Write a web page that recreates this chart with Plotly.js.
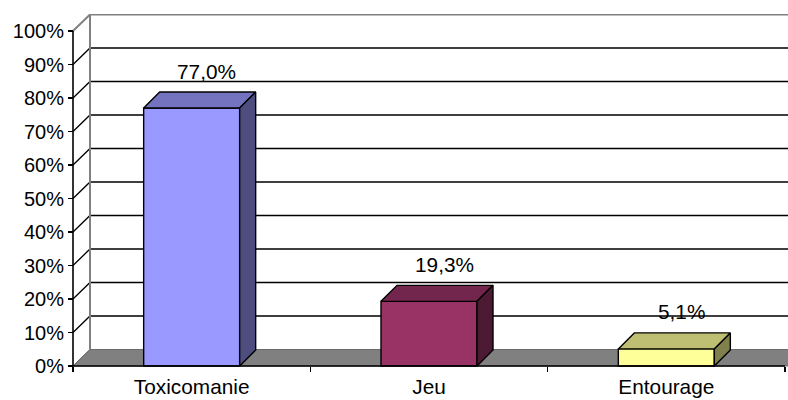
<!DOCTYPE html>
<html>
<head>
<meta charset="utf-8">
<script src="https://cdn.plot.ly/plotly-3.0.1.min.js"></script>
<style>
html,body{margin:0;padding:0;background:#fff;}
#chart{width:788px;height:400px;}
</style>
</head>
<body>
<div id="chart"></div>
<script>
// ---- data ----
const categories = ["Toxicomanie", "Jeu", "Entourage"];
const values = [77.0, 19.3, 5.1];
const tickValues = [0, 10, 20, 30, 40, 50, 60, 70, 80, 90, 100];
const tickLabels = tickValues.map(v => v + "%");
const frontColors = ["#9999FF", "#993366", "#FFFF99"];
const topColors   = ["#7373BF", "#73264D", "#BFBF73"];
const sideColors  = ["#4D4D80", "#4D1A33", "#80804D"];

// ---- geometry (pixel based style constants) ----
const W = 788, H = 400;
const mL = 70, mR = 0, mT = 14, mB = 31;
const plotW = W - mL - mR, plotH = H - mT - mB;
const axisXpx = 73, axisYpx = 366;           // front axes position
const catPx = (785 - axisXpx) / categories.length;  // px per category
const valPx = (axisYpx - 31) / 100;          // px per percent
const xMin = -0.5 - (axisXpx - mL) / catPx;
const xMax = xMin + plotW / catPx;
const yMin = -(mT + plotH - axisYpx) / valPx;
const yMax = yMin + plotH / valPx;
const wallDx = 17 / catPx, wallDy = 16.5 / valPx;
const barDx = 16 / catPx, barDy = 16 / valPx;
const barW = 96 / catPx;
const x0 = -0.5, x1 = categories.length - 0.5, xFar = xMax + 1;

const shapes = [];
// floor
shapes.push({type:'path', xref:'x', yref:'y', layer:'below',
  path:`M ${x0},0 L ${xFar},0 L ${xFar},${wallDy} L ${x0+wallDx},${wallDy} Z`,
  fillcolor:'#808080', line:{color:'#6a6a6a', width:1}});
// gridlines on back wall + side diagonals
tickValues.forEach(v => {
  if (v === 0) return;
  const col = v === 100 ? '#808080' : '#000000';
  const wd = v === 100 ? 2 : 1.3;
  shapes.push({type:'path', xref:'x', yref:'y', layer:'below',
    path:`M ${x0},${v} L ${x0+wallDx},${v+wallDy} L ${xFar},${v+wallDy}`,
    line:{color:col, width:wd}});
});
// left wall back edge
shapes.push({type:'line', xref:'x', yref:'y', layer:'below',
  x0:x0+wallDx, y0:wallDy, x1:x0+wallDx, y1:100+wallDy,
  line:{color:'#808080', width:2}});
// floor left diagonal
shapes.push({type:'line', xref:'x', yref:'y', layer:'below',
  x0:x0, y0:0, x1:x0+wallDx, y1:wallDy, line:{color:'#6a6a6a', width:1}});
// front axes lines
shapes.push({type:'line', xref:'x', yref:'y', layer:'above',
  x0:x0, y0:0, x1:x0, y1:100, line:{color:'#000', width:1.6}});
shapes.push({type:'line', xref:'x', yref:'y', layer:'above',
  x0:x0, y0:0, x1:x1, y1:0, line:{color:'#000', width:1.6}});

const traces = [];
// front faces
traces.push({type:'bar', x:categories.map((c,i)=>i), y:values, width:barW,
  marker:{color:frontColors, line:{color:'#000', width:1.4}},
  hoverinfo:'skip', showlegend:false});
// top and side faces
values.forEach((v,i) => {
  const l = i - barW/2, r = i + barW/2;
  traces.push({type:'scatter', mode:'lines', fill:'toself',
    x:[l, r, r+barDx, l+barDx, l], y:[v, v, v+barDy, v+barDy, v],
    fillcolor:topColors[i], line:{color:'#000', width:1.4},
    hoverinfo:'skip', showlegend:false});
  traces.push({type:'scatter', mode:'lines', fill:'toself',
    x:[r, r+barDx, r+barDx, r, r], y:[0, barDy, v+barDy, v, 0],
    fillcolor:sideColors[i], line:{color:'#000', width:1.4},
    hoverinfo:'skip', showlegend:false});
});

const font = {family:'"Liberation Sans", Arial, sans-serif', size:20, color:'#000'};
const bigFont = {family:'"Liberation Sans", Arial, sans-serif', size:20.8, color:'#000'};
const annotations = values.map((v,i) => ({
  x:i, y:v, xref:'x', yref:'y', text:v.toFixed(1).replace('.', ',') + '%',
  showarrow:false, xshift:15, yshift:37, font:bigFont, xanchor:'center', yanchor:'middle'
}));

const layout = {
  width:W, height:H, margin:{l:mL, r:mR, t:mT, b:mB, pad:0},
  paper_bgcolor:'#fff', plot_bgcolor:'#fff', showlegend:false,
  font:font,
  xaxis:{range:[xMin, xMax], anchor:'free', position:(mT+plotH-axisYpx)/plotH,
    tickmode:'array', tickvals:categories.map((c,i)=>i), ticktext:categories,
    ticks:'', showgrid:false, zeroline:false, showline:false, fixedrange:true,
    tickfont:bigFont, ticklabelstandoff:6,
    minor:{tickmode:'array', tickvals:[-0.5,0.5,1.5,2.5], ticks:'outside', ticklen:5, tickwidth:1.3, tickcolor:'#000', showgrid:false}},
  yaxis:{range:[yMin, yMax], anchor:'free', position:(axisXpx-mL)/plotW,
    tickmode:'array', tickvals:tickValues, ticktext:tickLabels,
    ticks:'outside', ticklen:5, tickwidth:1.3, tickcolor:'#000',
    showgrid:false, zeroline:false, showline:false, fixedrange:true, tickfont:font},
  shapes:shapes, annotations:annotations, bargap:0
};
Plotly.newPlot('chart', traces, layout, {staticPlot:true, displayModeBar:false});
</script>
</body>
</html>
